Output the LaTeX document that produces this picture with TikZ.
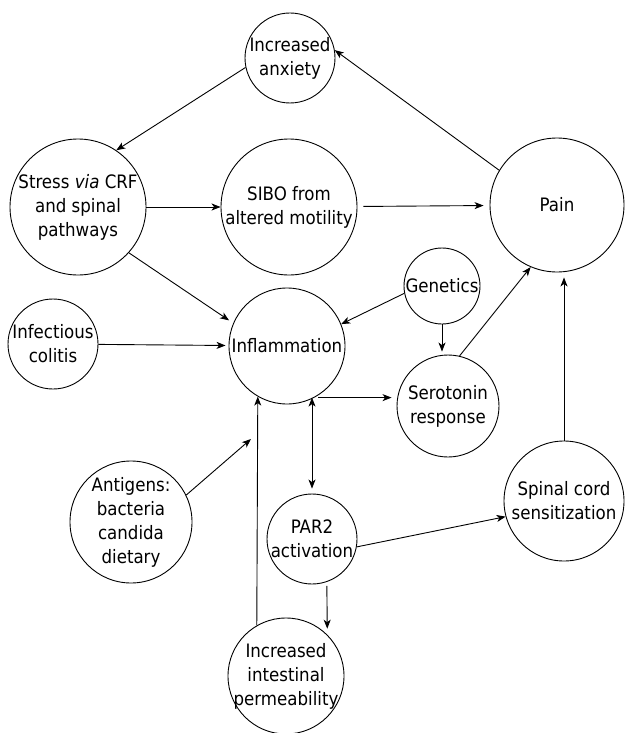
\documentclass[tikz,border=0pt]{standalone}
\usepackage{fontspec}
\setmainfont{DejaVu Sans Condensed}
\usetikzlibrary{shapes, arrows.meta, positioning, calc}

\begin{document}
\begin{tikzpicture}[x=1pt, y=-1pt, font=\fontsize{18.5}{24}\selectfont]
		% Define elements
		\tikzstyle{line} = [draw, -{Stealth[length=9pt, width=7pt, inset=2.5pt]}, line width=0.9pt]
		\tikzstyle{twoway} = [draw, {Stealth[length=9pt, width=7pt, inset=2.5pt]}-{Stealth[length=9pt, width=7pt, inset=2.5pt]}, line width=0.9pt]
		\tikzstyle{bubble} = [circle, draw, line width=0.9pt, align=center, inner sep=-3pt]
		\useasboundingbox (0,0) rectangle (624,733);
		%% Upper loop
		\node [name = anx, bubble, minimum size=90pt] at (290,58) {Increased\\anxiety};
		\node [name = stress, bubble, minimum size=136pt] at (78,207) {Stress \textit{via} CRF\\and spinal\\pathways};
		\node [name = sibo, bubble, minimum size=136pt] at (289,207) {SIBO from\\altered motility};
		\node [name = pain, bubble, minimum size=134pt] at (557,205) {Pain};

		%% Middle
		\node [name = gen, bubble, minimum size=76pt] at (442,286) {Genetics};
		\node [name = infl, bubble, minimum size=116pt] at (287,346) {Inflammation};
		\node [name = colitis, bubble, minimum size=90pt] at (53,344) {Infectious\\colitis};
		\node [name = sero, bubble, minimum size=102pt] at (448,406) {Serotonin\\response};
		\node [name = spinal, bubble, minimum size=120pt] at (564,501) {Spinal cord\\sensitization};

		%% Lower part
		\node [name = antig, bubble, minimum size=122pt] at (131,522) {Antigens:\\bacteria\\candida\\dietary};
		\node [name = par2, bubble, minimum size=90pt] at (312,539) {PAR2\\activation};
		\node [name = perm, bubble, minimum size=116pt] at (286,676) {Increased\\intestinal\\permeability};
		\coordinate (antigtip) at (251,439);

	% arrows
		\path [line] (pain.149) -- (anx.10);
		\path [line] (anx.192) -- (stress.56);
		\path [line] (stress) -- (sibo);
		\path [line, shorten <=6pt, shorten >=6pt] (sibo) -- (pain);
		\path [line, shorten >=5pt] (stress.-42) -- (infl.157);
		\path [line] (gen.191) -- (infl.22);
		\path [line, shorten >=3pt] (gen.south) -- (gen.south |- sero.north);
		\path [line] (sero.77) -- (pain.247);
		\path [line, shorten >=3pt] (colitis) -- (infl);
		\path [line, shorten >=5pt] (spinal.north) -- (spinal.north |- pain.south);
		\path [line, shorten <=4pt, shorten >=5pt] (infl.-62) -- (infl.-62 -| sero.west);
		\path [twoway, shorten >=5pt] (par2.north |- infl.-62) -- (par2.north);
		\path [line] (antig.26) -- (antigtip);
		\path [line] (perm.120) -- (infl.-120);
		\path [line, shorten <=4pt, shorten >=6pt] (par2.-71) -- (perm.45);
		\path [line] (par2.-10) -- (spinal.195);
	\end{tikzpicture}
\end{document}
